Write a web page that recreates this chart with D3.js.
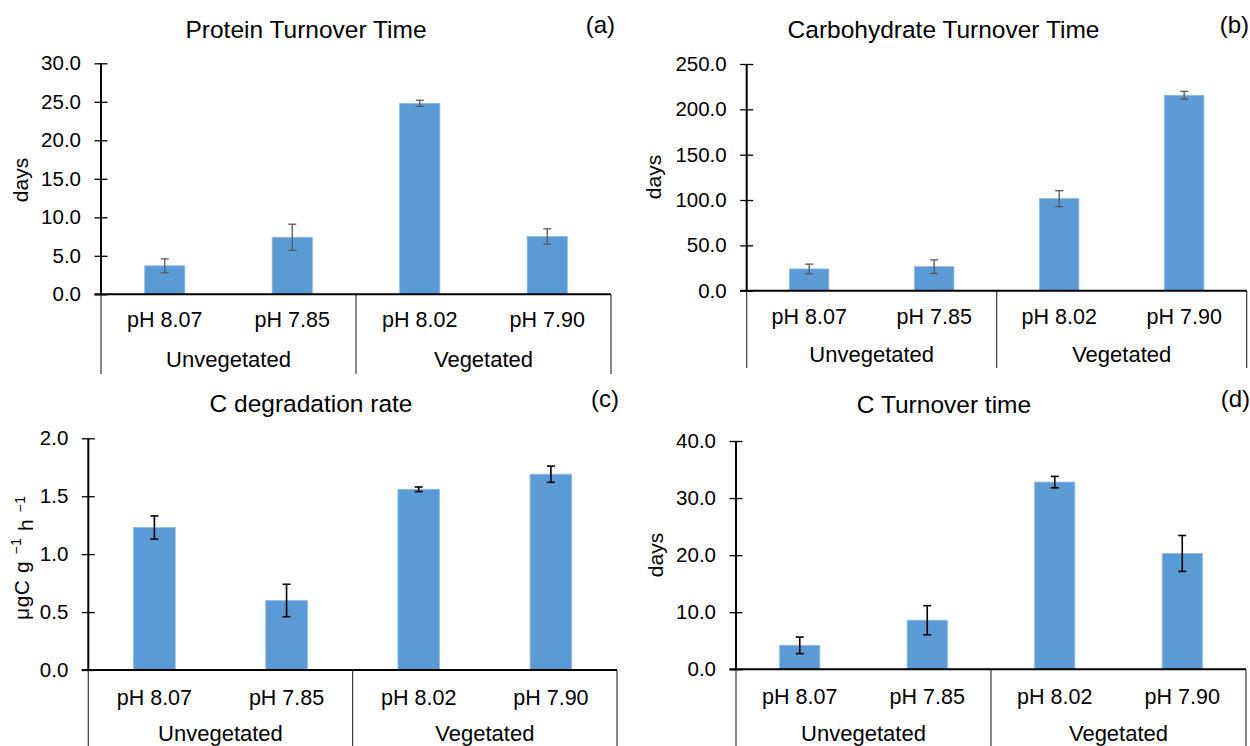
<!DOCTYPE html>
<html>
<head>
<meta charset="utf-8">
<script src="https://cdn.jsdelivr.net/npm/d3@7"></script>
<style>
  html, body { margin: 0; padding: 0; background: #fff; }
  svg { display: block; }
  text { font-family: "Liberation Sans", Arial, sans-serif; fill: #000; }
</style>
</head>
<body>
<svg id="chart" width="1250" height="746"></svg>
<script>
// ---------- data ----------
const categories = ["pH 8.07", "pH 7.85", "pH 8.02", "pH 7.90"];
const groups = ["Unvegetated", "Vegetated"];

const proteinValues = [3.7, 7.4, 24.8, 7.5];
const proteinErrors = [0.9, 1.7, 0.4, 1.0];
const proteinTicks = [0, 5, 10, 15, 20, 25, 30];

const carbValues = [24.0, 26.5, 101.5, 215.5];
const carbErrors = [5.3, 7.5, 8.8, 4.3];
const carbTicks = [0, 50, 100, 150, 200, 250];

const degradValues = [1.23, 0.60, 1.56, 1.69];
const degradErrors = [0.10, 0.14, 0.02, 0.07];
const degradTicks = [0, 0.5, 1.0, 1.5, 2.0];

const cTurnValues = [4.2, 8.6, 32.8, 20.3];
const cTurnErrors = [1.45, 2.55, 1.0, 3.15];
const cTurnTicks = [0, 10, 20, 30, 40];

const titles = ["Protein Turnover Time", "Carbohydrate Turnover Time", "C degradation rate", "C Turnover time"];
const tags = ["(a)", "(b)", "(c)", "(d)"];

// ---------- layout ----------
const panels = [
  { values: proteinValues, errors: proteinErrors, ticks: proteinTicks, title: titles[0], tag: tags[0],
    left: 101, right: 611, top: 63.3, bottom: 294.3, phBase: 327, grpBase: 366.7, divBottom: 374,
    titleX: 306, titleY: 38, tagX: 615, tagY: 33, yTitle: "days", yTitleX: 28, yTitleY: 180, errColor: "#595959", errW: 1.3 },
  { values: carbValues, errors: carbErrors, ticks: carbTicks, title: titles[1], tag: tags[1],
    left: 746.7, right: 1246.7, top: 64, bottom: 290.7, phBase: 323.5, grpBase: 362, divBottom: 368,
    titleX: 943.5, titleY: 38, tagX: 1249, tagY: 33, yTitle: "days", yTitleX: 661, yTitleY: 177, errColor: "#595959", errW: 1.3 },
  { values: degradValues, errors: degradErrors, ticks: degradTicks, title: titles[2], tag: tags[2],
    left: 88.3, right: 617, top: 438.3, bottom: 670, phBase: 705, grpBase: 740.5, divBottom: 746,
    titleX: 311, titleY: 412, tagX: 619, tagY: 407, yTitle: null, yTitleX: 29, yTitleY: 558, errColor: "#000", errW: 1.6 },
  { values: cTurnValues, errors: cTurnErrors, ticks: cTurnTicks, title: titles[3], tag: tags[3],
    left: 736, right: 1246, top: 441, bottom: 669.3, phBase: 704, grpBase: 740.5, divBottom: 746,
    titleX: 944, titleY: 413, tagX: 1250, tagY: 407, yTitle: "days", yTitleX: 663, yTitleY: 555, errColor: "#000", errW: 1.6 }
];

const svg = d3.select("#chart");
const barColor = "#5B9BD5";

panels.forEach(p => {
  const g = svg.append("g");
  const x = d3.scaleBand().domain(categories).range([p.left, p.right]).padding(0);
  const y = d3.scaleLinear().domain([0, d3.max(p.ticks)]).range([p.bottom, p.top]);
  const bw = x.bandwidth() * 0.315;

  // bars
  g.selectAll("rect.bar").data(p.values).enter().append("rect")
    .attr("class", "bar")
    .attr("x", (d, i) => x(categories[i]) + x.bandwidth() / 2 - bw / 2)
    .attr("y", d => y(d))
    .attr("width", bw)
    .attr("height", d => y(0) - y(d))
    .attr("fill", barColor)
    .attr("stroke", "#8fb9e3")
    .attr("stroke-width", 0.8);

  // error bars
  const eg = g.append("g").attr("stroke", p.errColor).attr("stroke-width", p.errW).attr("fill", "none");
  p.values.forEach((v, i) => {
    const cx = x(categories[i]) + x.bandwidth() / 2;
    const lo = y(v - p.errors[i]), hi = y(v + p.errors[i]);
    eg.append("line").attr("x1", cx).attr("x2", cx).attr("y1", lo).attr("y2", hi);
    eg.append("line").attr("x1", cx - 4).attr("x2", cx + 4).attr("y1", lo).attr("y2", lo);
    eg.append("line").attr("x1", cx - 4).attr("x2", cx + 4).attr("y1", hi).attr("y2", hi);
  });

  // y axis
  const ya = g.append("g").attr("transform", `translate(${p.left},0)`)
    .call(d3.axisLeft(y).tickValues(p.ticks).tickFormat(d => d.toFixed(1)).tickSize(6).tickPadding(14));
  ya.select(".domain").remove();
  ya.selectAll(".tick line").attr("x1", -6.5).attr("x2", 6.5).attr("stroke", "#000").attr("stroke-width", 1.3);
  ya.selectAll(".tick text").attr("font-size", 20.5).attr("font-family", "Liberation Sans, Arial, sans-serif")
    .attr("fill", "#000").attr("dy", "0.32em");
  g.append("line").attr("x1", p.left).attr("x2", p.left).attr("y1", p.top).attr("y2", p.bottom)
    .attr("stroke", "#000").attr("stroke-width", 2);

  // dividers (multi-level category axis)
  const divX = [p.left, (p.left + p.right) / 2, p.right];
  divX.forEach(dx => {
    g.append("line").attr("x1", dx).attr("x2", dx).attr("y1", p.bottom).attr("y2", p.divBottom)
      .attr("stroke", "#3a3a3a").attr("stroke-width", 1.2);
  });

  // x axis baseline
  g.append("line").attr("x1", p.left - 6.5).attr("x2", p.right).attr("y1", y(0)).attr("y2", y(0))
    .attr("stroke", "#000").attr("stroke-width", 2);

  // category labels
  g.selectAll("text.cat").data(categories).enter().append("text")
    .attr("class", "cat")
    .attr("x", d => x(d) + x.bandwidth() / 2)
    .attr("y", p.phBase)
    .attr("text-anchor", "middle")
    .attr("font-size", 21.5)
    .text(d => d);

  // group labels
  g.selectAll("text.grp").data(groups).enter().append("text")
    .attr("class", "grp")
    .attr("x", (d, i) => (divX[i] + divX[i + 1]) / 2)
    .attr("y", p.grpBase)
    .attr("text-anchor", "middle")
    .attr("font-size", 22)
    .text(d => d);

  // title and tag
  g.append("text").attr("x", p.titleX).attr("y", p.titleY).attr("text-anchor", "middle")
    .attr("font-size", 24.5).text(p.title);
  g.append("text").attr("x", p.tagX).attr("y", p.tagY).attr("text-anchor", "end")
    .attr("font-size", 24).text(p.tag);

  // y title
  const yt = g.append("text")
    .attr("transform", `translate(${p.yTitleX},${p.yTitleY}) rotate(-90)`)
    .attr("text-anchor", "middle")
    .attr("font-size", 21);
  if (p.yTitle) {
    yt.text(p.yTitle);
  } else {
    yt.attr("textLength", 124).attr("lengthAdjust", "spacing");
    yt.append("tspan").text("μgC g ");
    yt.append("tspan").attr("font-size", 14).attr("dy", "-0.55em").text("−1");
    yt.append("tspan").attr("dy", "0.55em").text(" h ");
    yt.append("tspan").attr("font-size", 14).attr("dy", "-0.55em").text("−1");
  }
});
</script>
</body>
</html>
